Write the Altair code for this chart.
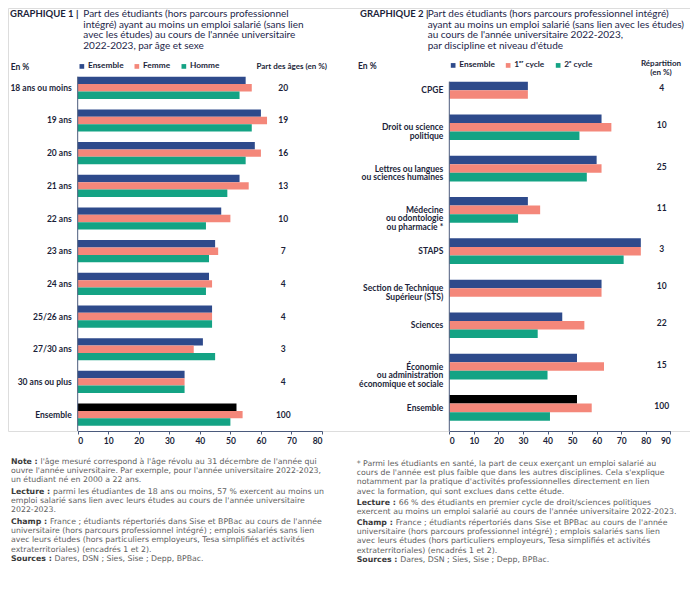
import altair as alt
import pandas as pd

FONT = "Lato"
NOTEFONT = "DejaVu Sans"
NAVY = "#2e4a8b"
SALMON = "#f4877a"
TEAL = "#14a384"
BLACK = "#000000"
TXT = "#1c1f3a"
GREY = "#606060"
LABGREY = "#3a3a3a"
AXIS = "#4b5a7c"

# ---------------- data: chart 1 ----------------
ages = ["18 ans ou moins", "19 ans", "20 ans", "21 ans", "22 ans", "23 ans",
        "24 ans", "25/26 ans", "27/30 ans", "30 ans ou plus", "Ensemble"]
ens1 = [55, 60, 58, 53, 47, 45, 43, 44, 41, 35, 52]
fem1 = [57, 62, 60, 56, 50, 46, 44, 44, 38, 35, 54]
hom1 = [53, 57, 55, 49, 42, 43, 42, 44, 45, 35, 50]
part1 = [20, 19, 16, 13, 10, 7, 4, 4, 3, 4, 100]
series1 = ["Ensemble", "Femme", "Homme"]

# ---------------- data: chart 2 ----------------
disciplines = ["CPGE", "Droit ou science\npolitique",
               "Lettres ou langues\nou sciences humaines",
               "Médecine\nou odontologie\nou pharmacie *", "STAPS",
               "Section de Technique\nSupérieur (STS)", "Sciences",
               "Économie\nou administration\néconomique et sociale", "Ensemble"]
ens2 = [32, 62, 60, 32, 78, 62, 46, 52, 52]
cyc1 = [32, 66, 62, 37, 78, 62, 55, 63, 58]
cyc2 = [None, 53, 56, 28, 71, None, 36, 40, 41]
rep2 = [4, 10, 25, 11, 3, 10, 22, 15, 100]
series2 = ["Ensemble", "1ᵉʳ cycle", "2ᵉ cycle"]


def long_table(cats, cols, names, shares):
    rows = []
    for ci, c in enumerate(cats):
        for si, (name, vals) in enumerate(zip(names, cols)):
            v = vals[ci]
            if v is None:
                continue
            rows.append(dict(cat=c, ci=ci, series=name, si=si, value=v,
                             share=shares[ci], total=(c == "Ensemble")))
    return pd.DataFrame(rows)


df1 = long_table(ages, [ens1, fem1, hom1], series1, part1)
df2 = long_table(disciplines, [ens2, cyc1, cyc2], series2, rep2)


def panel(df, names, colors, xmax, xrange, yrange, gap, lx, ly, share_x, share_dy):
    nbars = len(df)
    ncat = df["ci"].nunique()
    total = nbars + (ncat - 1) * gap
    ysc = alt.Scale(domain=[0, total], range=yrange, nice=False, zero=False)
    xsc = alt.Scale(domain=[0, xmax], range=xrange, nice=False)
    base = (alt.Chart(df)
            .transform_window(k="row_number()", sort=[alt.SortField("ci"), alt.SortField("si")])
            .transform_window(c="dense_rank()", sort=[alt.SortField("ci")])
            .transform_calculate(top=f"datum.k - 1 + (datum.c - 1) * {gap}")
            .transform_calculate(bot="datum.top + 1")
            .transform_joinaggregate(gtop="min(top)", gbot="max(bot)", groupby=["cat"])
            .transform_calculate(gmid="(datum.gtop + datum.gbot) / 2"))
    bars = base.mark_rect().encode(
        x=alt.X("value:Q", scale=xsc,
                axis=alt.Axis(orient="bottom", title=None, grid=False,
                              values=list(range(0, xmax + 1, 10)), format="d",
                              domainColor=AXIS, tickColor=AXIS, tickSize=3,
                              labelFont=FONT, labelFontSize=8.5, labelFontWeight="bold",
                              labelColor=TXT, labelPadding=2)),
        x2=alt.datum(0),
        y=alt.Y("top:Q", scale=ysc, axis=None),
        y2="bot:Q",
        color=alt.condition(
            "datum.total && datum.si == 0", alt.value(BLACK),
            alt.Color("series:N", scale=alt.Scale(domain=names, range=colors),
                      legend=alt.Legend(orient="none", legendX=lx, legendY=ly,
                                        direction="horizontal", title=None,
                                        symbolType="square", symbolSize=22,
                                        symbolStrokeWidth=0, symbolOpacity=1,
                                        labelFont=FONT, labelFontSize=8.3,
                                        labelFontWeight="bold", labelColor=TXT,
                                        columnPadding=9, labelOffset=2, padding=0))),
    )
    rule = alt.Chart(pd.DataFrame({"a": [0]})).mark_rule(color=AXIS, strokeWidth=1).encode(
        x=alt.datum(0), y=alt.datum(0), y2=alt.value("height"))
    labels = base.transform_filter("datum.si == 0").mark_text(
        align="right", baseline="middle", dx=-6, font=FONT, fontSize=8.5,
        fontWeight="bold", color=TXT, lineBreak="\n", lineHeight=8.6).encode(
        x=alt.datum(0), y="gmid:Q", text="cat:N")
    shares = base.transform_filter("datum.si == 0").mark_text(
        align="center", baseline="middle", dy=share_dy, font=FONT, fontSize=8.5,
        fontWeight="bold", color=TXT).encode(
        x=alt.value(share_x), y="gmid:Q", text="share:Q")
    return alt.layer(bars, rule, labels, shares)


p1 = panel(df1, series1, [NAVY, SALMON, TEAL], 80, [69.7, 314], [68.7, 417.7],
           1.42, 69.7, 54, 275.3, 0)
p2 = panel(df2, series2, [NAVY, SALMON, TEAL], 90, [441.3, 662.3], [73.7, 412.7],
           1.83, 441, 53, 653.7, -2)


def txt(s, x, y, size, weight="normal", color=TXT, align="left", baseline="top",
        lh=None, font=FONT):
    m = dict(font=font, fontSize=size, fontWeight=weight, color=color, align=align,
             baseline=baseline, lineBreak="\n")
    if lh:
        m["lineHeight"] = lh
    return alt.Chart(pd.DataFrame({"t": [s]})).mark_text(**m).encode(
        x=alt.value(x), y=alt.value(y), text="t:N")


texts = []
# titles
texts.append(txt("GRAPHIQUE 1 |", 2, 1, 9.5, "bold"))
texts.append(txt("Part des étudiants (hors parcours professionnel\n"
                 "intégré) ayant au moins un emploi salarié (sans lien\n"
                 "avec les études) au cours de l'année universitaire\n"
                 "2022-2023, par âge et sexe", 75.3, 1, 10, color="#23264a", lh=10.6))
texts.append(txt("GRAPHIQUE 2 |", 352, 1, 9.5, "bold"))
texts.append(txt("Part des étudiants (hors parcours professionnel intégré)\n"
                 "ayant au moins un emploi salarié (sans lien avec les études)\n"
                 "au cours de l'année universitaire 2022-2023,\n"
                 "par discipline et niveau d'étude", 419.7, 1, 10, color="#23264a", lh=10.6))
# headers
texts.append(txt("En %", 2.7, 59, 8.5, "bold", baseline="middle"))
texts.append(txt("Part des âges (en %)", 283.7, 59, 8, "bold", align="center", baseline="middle"))
texts.append(txt("En %", 350, 58, 8.5, "bold", baseline="middle"))
texts.append(txt("Répartition\n(en %)", 653, 52, 8, "bold", align="center", lh=9))

# notes
LH = 9.2
FS = 7.8


def para(x, ytop, label, lw, first, rest):
    out = []
    if label:
        out.append(txt(label, x, ytop, FS, "bold", color=LABGREY, font=NOTEFONT))
        out.append(txt(first, x + lw, ytop, FS, color=GREY, font=NOTEFONT))
    else:
        out.append(txt(first, x, ytop, FS, color=GREY, font=NOTEFONT))
    if rest:
        out.append(txt("\n".join(rest), x, ytop + LH, FS, color=GREY, lh=LH, font=NOTEFONT))
    return out


champ_first = "France ; étudiants répertoriés dans Sise et BPBac au cours de l'année"
champ_rest = ["universitaire (hors parcours professionnel intégré) ; emplois salariés sans lien",
              "avec leurs études (hors particuliers employeurs, Tesa simplifiés et activités",
              "extraterritoriales) (encadrés 1 et 2)."]
sources = "Dares, DSN ; Sies, Sise ; Depp, BPBac."

texts += para(3, 450, "Note :", 29.5,
              "l'âge mesuré correspond à l'âge révolu au 31 décembre de l'année qui",
              ["ouvre l'année universitaire. Par exemple, pour l'année universitaire 2022-2023,",
               "un étudiant né en 2000 a 22 ans."])
texts += para(3, 480, "Lecture :", 42,
              "parmi les étudiantes de 18 ans ou moins, 57 % exercent au moins un",
              ["emploi salarié sans lien avec leurs études au cours de l'année universitaire",
               "2022-2023."])
texts += para(3, 510, "Champ :", 39, champ_first, champ_rest)
texts += para(3, 547, "Sources :", 43.5, sources, [])

texts += para(348.7, 452, None, 0,
              "* Parmi les étudiants en santé, la part de ceux exerçant un emploi salarié au",
              ["cours de l'année est plus faible que dans les autres disciplines. Cela s'explique",
               "notamment par la pratique d'activités professionnelles directement en lien",
               "avec la formation, qui sont exclues dans cette étude."])
texts += para(348.7, 491, "Lecture :", 42,
              "66 % des étudiants en premier cycle de droit/sciences politiques",
              ["exercent au moins un emploi salarié au cours de l'année universitaire 2022-2023."])
texts += para(348.7, 511, "Champ :", 39, champ_first, champ_rest)
texts += para(348.7, 548, "Sources :", 43.5, sources, [])

chart = alt.layer(p1, p2, *texts).resolve_scale(
    x="independent", y="independent", color="independent"
).properties(
    width=682, height=423,
    autosize=alt.AutoSizeParams(type="none"),
    padding={"left": 0, "top": 0, "right": 0, "bottom": 163},
).configure_view(stroke=None).configure(background="white")

chart.save("out.html", embed_options={"renderer": "svg", "actions": False})
